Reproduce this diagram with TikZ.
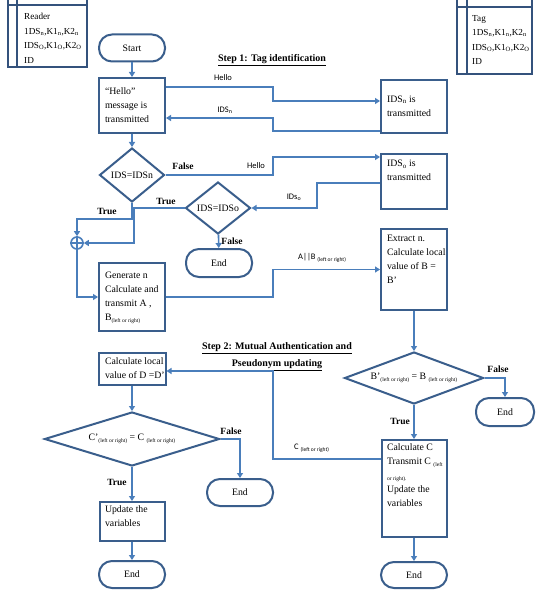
\documentclass[tikz,border=0pt]{standalone}
\usepackage{fontspec}
\setmainfont{Liberation Serif}
\newfontfamily\labfont{Carlito}
\usetikzlibrary{shapes.geometric,arrows.meta}
\definecolor{boxc}{RGB}{58,94,140}
\definecolor{linec}{RGB}{74,126,187}
\definecolor{memc}{RGB}{52,82,124}
% text block inside a process box: height, inner position, rows
\newcommand\boxtext[3][c]{\begin{minipage}[c][#2][#1]{54pt}\fontsize{9.8}{14}\selectfont
  \begin{tabular}{@{}l@{}}#3\end{tabular}\end{minipage}}
\newcommand\lrs[1]{\raisebox{-1.5pt}{\fontsize{5.5}{6.5}\selectfont #1}}
\newcommand\lrsub{\lrs{(left or right)}}
\newcommand\sub[1]{\textsubscript{#1}}
\begin{document}
\begin{tikzpicture}[x=1pt,y=-1pt,
  proc/.style={draw=boxc, line width=2pt, rectangle, inner sep=0pt, minimum width=66pt},
  term/.style={draw=boxc, line width=2pt, rectangle, rounded corners=13pt, inner sep=0pt,
    minimum width=66pt, minimum height=27pt, font=\fontsize{9.8}{12}\selectfont},
  decide/.style={draw=boxc, line width=2pt, diamond, inner sep=0pt, font=\fontsize{9.8}{12}\selectfont},
  flow/.style={draw=linec, line width=1.6pt, -{Triangle[length=5pt,width=6pt]}},
  tf/.style={font=\fontsize{9.5}{11}\selectfont\bfseries, inner sep=0pt},
  msg/.style={font=\labfont\fontsize{8.5}{10}\selectfont, inner sep=0pt},
  mem/.style={anchor=north west, align=left, inner sep=0pt, font=\fontsize{9.2}{14.5}\selectfont},
]
\useasboundingbox (0,0) rectangle (535,596);
\clip (0,0) rectangle (535,596);
\fill[white] (0,0) rectangle (535,596);

% stored values of the two parties
\draw[memc, line width=1.2pt] (8,-6) rectangle (87,67) (8,5) -- (87,5) (17,-6) -- (17,67);
\node[mem] (reader) at (24,13) {Reader\\1DS\sub{n},K1\sub{n},K2\sub{n}\\IDS\sub{O},K1\sub{O},K2\sub{O}\\ID};
\draw[memc, line width=1.2pt] (457,-6) rectangle (532,74) (457,7) -- (532,7) (467,-6) -- (467,74);
\node[mem] (tag) at (472,15) {Tag\\1DS\sub{n},K1\sub{n},K2\sub{n}\\IDS\sub{O},K1\sub{O},K2\sub{O}\\ID};

% step titles
\node[font=\fontsize{10}{12}\selectfont\bfseries, inner sep=0pt] (step1) at (272,60) {\underline{Step 1: Tag identification}};
\node[font=\fontsize{10}{17}\selectfont\bfseries, inner sep=0pt, align=center] (step2) at (277,357)
  {\underline{Step 2: Mutual Authentication and}\\\underline{Pseudonym updating}};

% step 1 nodes
\node[term] (start) at (132,48) {Start};
\node[proc, minimum height=55pt] (hello) at (132,105.5) {\boxtext{45pt}{“Hello”\\message is\\transmitted}};
\node[proc, minimum height=53pt] (idsn) at (414,106.5) {\boxtext{45pt}{IDS\sub{n} is\\transmitted}};
\node[decide, aspect=1.2, minimum width=65pt, minimum height=54pt] (d1) at (132,175) {IDS=IDSn};
\node[proc, minimum height=55pt] (idso) at (414,181.5) {\boxtext[t]{49pt}{IDS\sub{o} is\\transmitted}};
\node[decide, aspect=1.25, minimum width=65pt, minimum height=52pt] (d2) at (218,208) {IDS=IDSo};
\node[term, minimum height=28pt] (end1) at (219,263) {End};
\node[circle, draw=linec, line width=1.6pt, minimum size=12pt, inner sep=0pt] (xor) at (77,243) {};
\draw[linec, line width=1.6pt] (xor.north) -- (xor.south) (xor.west) -- (xor.east);
\node[proc, minimum height=68pt] (gen) at (132,297) {\boxtext{60pt}{Generate n\\Calculate and\\transmit A ,\\B\lrsub}};
\node[proc, minimum height=81pt] (extract) at (414,269.5) {\boxtext[t]{75pt}{Extract n.\\Calculate local\\value of B =\\B’}};

% step 2 nodes
\node[decide, aspect=2.67, minimum width=139pt, minimum height=52pt] (d3) at (414,378) {B’\lrsub{} = B \lrsub};
\node[term, minimum width=58pt, minimum height=28pt] (end2) at (505,412) {End};
\node[proc, minimum width=65pt, minimum height=97pt] (calcc) at (414,488.5)
  {\boxtext[t]{95pt}{Calculate C\\Transmit C \lrs{(left}\\\lrs{or right).}\\Update the\\variables}};
\node[term, minimum height=26pt] (end3) at (414,575) {End};
\node[proc, minimum width=67pt, minimum height=32pt] (calcd) at (132,369) {\boxtext{28pt}{Calculate local\\value of D =D’}};
\node[decide, aspect=3.24, minimum width=175pt, minimum height=54pt] (d4) at (132,439) {C’\lrsub{} = C \lrsub};
\node[term] (end4) at (240,492.5) {End};
\node[proc, minimum width=65pt, minimum height=39pt] (update) at (132,521.5) {\boxtext[t]{37pt}{Update the\\variables}};
\node[term] (end5) at (132,574.5) {End};

% connectors of step 1
\draw[flow] (start) -- (hello);
\draw[flow] (hello.east |- 0,87) -| (273,101) -- (idsn.west |- 0,101);
\draw[flow] (idsn.west |- 0,131) -| (273,118) -- (hello.east |- 0,118);
\draw[flow] (hello) -- (d1);
\draw[flow] (d1.east) -| (273,157) -- (idso.west |- 0,157);
\draw[flow] (idso.west |- 0,183) -| (317,208) -- (d2.east);
\draw[flow] (d2) -- (end1);
\draw[flow] (d2.west) -| (134,243) -- (xor.east);
\draw[flow] (d1.south) -- (132,219) -| (xor.north);
\draw[flow] (xor.south) |- (gen.west);
\draw[flow] (gen.east) -| (273,269.5) -- (extract.west);

% connectors of step 2
\draw[flow] (extract) -- (d3);
\draw[flow] (d3.east) -| (end2.north);
\draw[flow] (d3) -- (calcc);
\draw[flow] (calcc) -- (end3);
\draw[flow] (calcc.west |- 0,459) -| (273,371) -- (calcd.east |- 0,371);
\draw[flow] (calcd) -- (d4);
\draw[flow] (d4.east) -| (end4.north);
\draw[flow] (d4) -- (update);
\draw[flow] (update) -- (end5);

% connector labels
\node[msg] (m1) at (223,78) {Hello};
\node[msg] (m2) at (225,110) {IDS\sub{n}};
\node[msg] (m3) at (256,166) {Hello};
\node[msg] (m4) at (294,197) {IDs\sub{o}};
\node[msg, anchor=west] (m5) at (298,258) {A||B \lrsub};
\node[msg, anchor=west] (m6) at (294,448) {C \lrsub};
\node[tf] (f1) at (183,166) {False};
\node[tf] (t1) at (107,211) {True};
\node[tf] (t2) at (166,201) {True};
\node[tf] (f2) at (232,241) {False};
\node[tf] (f3) at (498,369) {False};
\node[tf, anchor=east] (t3) at (410,421) {True};
\node[tf] (f4) at (231,431) {False};
\node[tf] (t4) at (117,482) {True};
\end{tikzpicture}
\end{document}
